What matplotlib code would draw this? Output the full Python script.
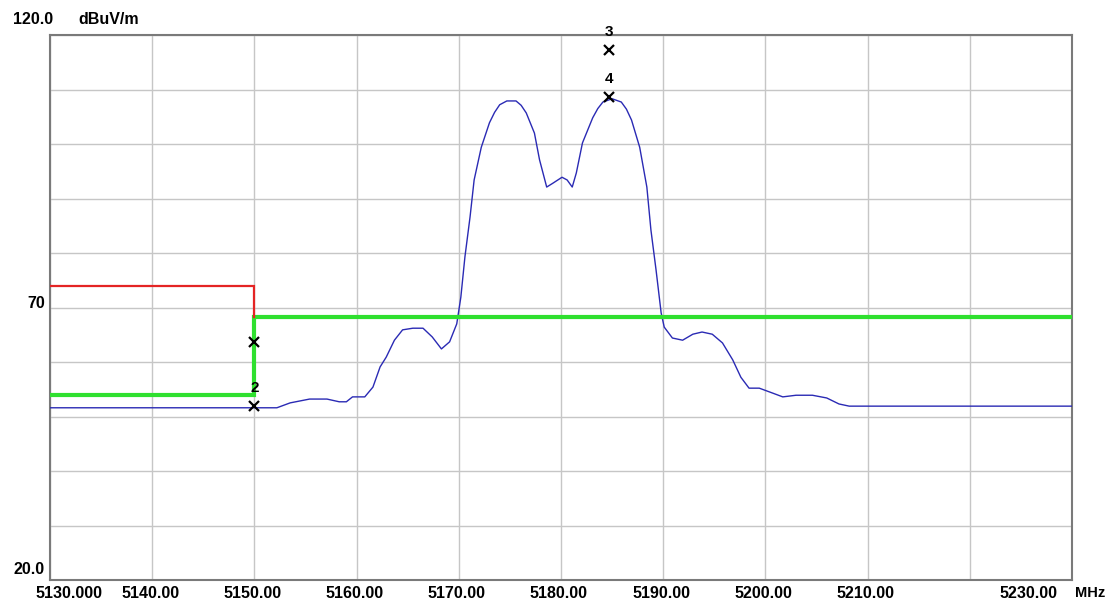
import matplotlib.pyplot as plt
import matplotlib.transforms as mtransforms

# Trace (MHz, dBuV/m)
freq = [5130.0, 5149.8, 5152.2, 5153.5, 5155.4, 5157.1, 5158.3, 5159.0, 5159.6, 5160.8,
        5161.6, 5162.3, 5162.9, 5163.7, 5164.5, 5165.5, 5166.5, 5167.4, 5168.3, 5169.1,
        5169.8, 5170.2, 5170.6, 5171.1, 5171.5, 5172.2, 5173.0, 5173.5, 5174.0, 5174.7,
        5175.6, 5176.1, 5176.6, 5177.4, 5177.9, 5178.6, 5179.2, 5180.1, 5180.6, 5181.1,
        5181.5, 5182.1, 5183.1, 5183.6, 5184.1, 5185.0, 5185.9, 5186.4, 5186.9, 5187.7,
        5188.4, 5188.8, 5189.3, 5189.8, 5190.1, 5190.9, 5191.9, 5192.9, 5193.8, 5194.8,
        5195.8, 5196.8, 5197.6, 5198.4, 5199.4, 5200.7, 5201.7, 5203.0, 5204.6, 5206.0,
        5207.2, 5208.2, 5213.1, 5222.0, 5230.0]
level = [51.6, 51.6, 51.6, 52.5, 53.2, 53.2, 52.7, 52.7, 53.6, 53.6,
         55.4, 59.1, 60.9, 64.0, 65.9, 66.2, 66.2, 64.6, 62.4, 63.7,
         67.0, 71.9, 79.3, 86.6, 93.4, 99.4, 103.9, 105.8, 107.2, 107.9,
         107.9, 107.1, 105.7, 102.0, 97.1, 92.1, 92.8, 93.9, 93.4, 92.1,
         94.7, 100.2, 104.8, 106.5, 107.7, 108.3, 107.7, 106.4, 104.4, 99.4,
         92.1, 84.2, 76.9, 69.0, 66.4, 64.4, 64.0, 65.1, 65.5, 65.1,
         63.5, 60.4, 57.2, 55.2, 55.2, 54.3, 53.6, 53.9, 53.9, 53.4,
         52.3, 51.9, 51.9, 51.9, 51.9]

# Limit lines
peak_x = [5130, 5150, 5150]
peak_y = [74.0, 74.0, 68.2]
avg_x = [5130, 5150, 5150, 5230]
avg_y = [54.0, 54.0, 68.2, 68.2]

# Markers
mk_no = ["1", "2", "3", "4"]
mk_f = [5150.0, 5150.0, 5184.7, 5184.7]
mk_lv = [63.7, 51.9, 117.2, 108.6]

x_ticks = [5130, 5140, 5150, 5160, 5170, 5180, 5190, 5200, 5210, 5220, 5230]
x_labels = ["5130.000", "5140.00", "5150.00", "5160.00", "5170.00", "5180.00",
            "5190.00", "5200.00", "5210.00", "", "5230.00"]
y_labels = {120: "120.0", 70: "70", 20: "20.0"}

font = dict(family="Liberation Sans", fontweight="bold", fontsize=11.5, color="black")

fig = plt.figure(figsize=(11.05, 6.0), dpi=100)
ax = fig.add_axes([50 / 1105, 1 - 580 / 600, 1022 / 1105, 545 / 600])
ax.set_xlim(5130, 5230)
ax.set_ylim(20, 120)
ax.set_xticks(x_ticks)
ax.set_yticks(range(20, 121, 10))
ax.tick_params(length=0, labelbottom=False, labelleft=False)
ax.grid(True, color="#c6c6c6", lw=1.0)
for s in ax.spines.values():
    s.set_color("#7a7a7a")
    s.set_linewidth(1.5)

ax.plot(freq, level, color="#2a2ab4", lw=1.0, zorder=3)
ax.plot(avg_x, avg_y, color="#2fe02f", lw=3.0, zorder=4, solid_joinstyle="miter")
ax.plot(peak_x, peak_y, color="#e42424", lw=1.6, zorder=4, solid_joinstyle="miter")

ax.plot(mk_f, mk_lv, ls="none", marker="x", ms=7, mew=1.6, color="black", zorder=6)
for n, f, v in zip(mk_no, mk_f, mk_lv):
    if n == "1":
        continue  # label hidden behind the limit line
    off = mtransforms.offset_copy(ax.transData, fig=fig, x=0, y=11, units="dots")
    ax.text(f, v, n, transform=off, ha="center", va="bottom", family="Liberation Sans",
            fontweight="bold", fontsize=11, zorder=6)

# x labels under the frame
xt = ax.get_xaxis_transform()
for v, lab in zip(x_ticks, x_labels):
    if not lab:
        continue
    if v == x_ticks[0]:
        tr = xt + mtransforms.ScaledTranslation(-14 / 100, -6 / 100, fig.dpi_scale_trans)
        ax.text(v, 0, lab, transform=tr, ha="left", va="top", **font)
    elif v == x_ticks[-1]:
        tr = xt + mtransforms.ScaledTranslation(-15 / 100, -6 / 100, fig.dpi_scale_trans)
        ax.text(v, 0, lab, transform=tr, ha="right", va="top", **font)
    else:
        tr = xt + mtransforms.ScaledTranslation(-2 / 100, -6 / 100, fig.dpi_scale_trans)
        ax.text(v, 0, lab, transform=tr, ha="center", va="top", **font)
tr = xt + mtransforms.ScaledTranslation(3 / 100, -6 / 100, fig.dpi_scale_trans)
ax.text(5230, 0, "MHz", transform=tr, ha="left", va="top", family="Liberation Sans",
        fontweight="bold", fontsize=10.5)

# y labels, drawn a little above their levels like the analyser does
yt = ax.get_yaxis_transform()
shift = {120: (3, 15), 70: (-5, 4), 20: (-5, 10)}
for v, lab in y_labels.items():
    dx, dy = shift[v]
    tr = yt + mtransforms.ScaledTranslation(dx / 100, dy / 100, fig.dpi_scale_trans)
    ax.text(0, v, lab, transform=tr, ha="right", va="center", **font)
tr = yt + mtransforms.ScaledTranslation(28 / 100, 15 / 100, fig.dpi_scale_trans)
ax.text(0, 120, "dBuV/m", transform=tr, ha="left", va="center", **font)

fig.savefig("out.png", dpi=100)
